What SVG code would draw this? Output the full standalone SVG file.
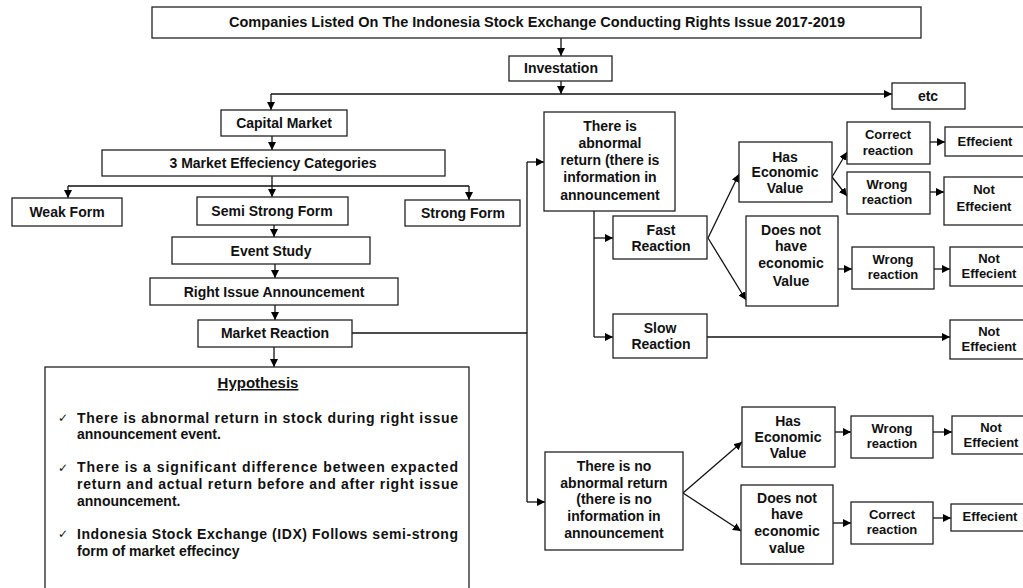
<svg xmlns="http://www.w3.org/2000/svg" width="1023" height="588" viewBox="0 0 1023 588">
<defs>
<marker id="ah" markerWidth="8" markerHeight="8" refX="8" refY="4" orient="auto" markerUnits="userSpaceOnUse"><path d="M0,0 L8,4 L0,8 z" fill="#000"/></marker>
<style>
rect{fill:#fff;stroke:#222;stroke-width:1.3}
text{font-family:"Liberation Sans",Arial,sans-serif;font-weight:bold;font-size:14px;fill:#111;text-anchor:middle}
.s{font-size:13px}
.b{text-anchor:start}
.ck{font-family:"DejaVu Sans",sans-serif;font-size:12px;font-weight:normal;text-anchor:start}
#connectors path{fill:none;stroke:#111;stroke-width:1.3}
.a{marker-end:url(#ah)}
</style>
</defs>
<rect x="0" y="0" width="1023" height="588" style="fill:#fff;stroke:none"/>
<g id="connectors">
<path class="a" d="M561,38 V56"/>
<path class="a" d="M561,81 V94"/>
<path class="a" d="M271,94 H892"/>
<path class="a" d="M271,94 V110"/>
<path class="a" d="M272,136 V150"/>
<path d="M272,176 V186 M68,186 H469"/>
<path class="a" d="M68,186 V198"/>
<path class="a" d="M272,186 V197"/>
<path class="a" d="M469,186 V200"/>
<path class="a" d="M274,225 V237"/>
<path class="a" d="M275,264 V278"/>
<path class="a" d="M275,305 V320"/>
<path class="a" d="M274,347 V367"/>
<path d="M352,333 H527 M527,162 V502"/>
<path class="a" d="M527,162 H544"/>
<path class="a" d="M527,502 H545"/>
<path d="M594,211 V337"/>
<path class="a" d="M594,238 H613"/>
<path class="a" d="M594,337 H613"/>
<path class="a" d="M708,238 L739,174"/>
<path class="a" d="M708,238 L746,300"/>
<path class="a" d="M832,177 L847,152"/>
<path class="a" d="M832,177 L847,196"/>
<path class="a" d="M930,142 H945"/>
<path class="a" d="M930,192 H944"/>
<path class="a" d="M838,269 H852"/>
<path class="a" d="M934,269 H950"/>
<path class="a" d="M707,337 H950"/>
<path class="a" d="M683,493 L742,442"/>
<path class="a" d="M683,493 L741,531"/>
<path class="a" d="M835,432 H851"/>
<path class="a" d="M933,432 H952"/>
<path class="a" d="M833,523 H851"/>
<path class="a" d="M933,518 H951"/>
</g>
<g id="n-top"><rect x="152" y="7" width="769" height="31"/><text x="537" y="27" textLength="616" lengthAdjust="spacingAndGlyphs">Companies Listed On The Indonesia  Stock Exchange Conducting Rights Issue 2017-2019</text></g>
<g id="n-investation"><rect x="509" y="56" width="103" height="25"/><text x="561" y="73">Investation</text></g>
<g id="n-etc"><rect x="892" y="83" width="73" height="26"/><text x="928" y="101">etc</text></g>
<g id="n-capital"><rect x="221" y="110" width="126" height="26"/><text x="284" y="128">Capital Market</text></g>
<g id="n-categories"><rect x="102" y="150" width="343" height="26"/><text x="273" y="168">3 Market Effeciency Categories</text></g>
<g id="n-weak"><rect x="12" y="198" width="110" height="28"/><text x="67" y="217">Weak Form</text></g>
<g id="n-semi"><rect x="197" y="197" width="151" height="28"/><text x="272" y="216">Semi Strong Form</text></g>
<g id="n-strong"><rect x="405" y="200" width="115" height="26"/><text x="463" y="218">Strong Form</text></g>
<g id="n-event"><rect x="172" y="237" width="198" height="27"/><text x="271" y="256">Event Study</text></g>
<g id="n-rightissue"><rect x="150" y="278" width="248" height="27"/><text x="274" y="297">Right Issue Announcement</text></g>
<g id="n-market"><rect x="198" y="320" width="154" height="27"/><text x="275" y="338">Market Reaction</text></g>
<g id="n-hypothesis"><rect x="45" y="367" width="424" height="230"/>
<text x="258" y="388" style="font-size:15px;text-decoration:underline">Hypothesis</text>
<text x="58" y="422" class="ck">✓</text>
<text x="77" y="423" class="b" textLength="381" lengthAdjust="spacing">There is abnormal return in stock during right issue</text>
<text x="77" y="439" class="b">announcement event.</text>
<text x="58" y="472" class="ck">✓</text>
<text x="77" y="472" class="b" textLength="381" lengthAdjust="spacing">There is a significant difference between expacted</text>
<text x="77" y="489" class="b" textLength="381" lengthAdjust="spacing">return and actual return before and after right issue</text>
<text x="77" y="506" class="b">announcement.</text>
<text x="58" y="538" class="ck">✓</text>
<text x="77" y="539" class="b" textLength="381" lengthAdjust="spacing">Indonesia Stock Exchange (IDX) Follows semi-strong</text>
<text x="77" y="556" class="b">form of market effecincy</text>
</g>
<g id="n-abnormal"><rect x="544" y="112" width="131" height="99"/>
<text x="610" y="131">There is</text><text x="610" y="148">abnormal</text><text x="610" y="165">return (there is</text><text x="610" y="182">information in</text><text x="610" y="200">announcement</text></g>
<g id="n-fast"><rect x="613" y="216" width="94" height="43"/><text x="661" y="235">Fast</text><text x="661" y="251">Reaction</text></g>
<g id="n-slow"><rect x="613" y="314" width="94" height="44"/><text x="660" y="333">Slow</text><text x="661" y="349">Reaction</text></g>
<g id="n-has1"><rect x="739" y="142" width="93" height="60"/><text x="785" y="162">Has</text><text x="785" y="177">Economic</text><text x="785" y="193">Value</text></g>
<g id="n-correct1"><rect x="847" y="122" width="83" height="42"/><text x="888" y="139" class="s">Correct</text><text x="888" y="155" class="s">reaction</text></g>
<g id="n-eff1"><rect x="945" y="127" width="85" height="29"/><text x="985" y="146" class="s">Effecient</text></g>
<g id="n-wrong1"><rect x="847" y="172" width="83" height="42"/><text x="887" y="189" class="s">Wrong</text><text x="887" y="204" class="s">reaction</text></g>
<g id="n-noteff1"><rect x="944" y="177" width="85" height="48"/><text x="984" y="194" class="s">Not</text><text x="984" y="211" class="s">Effecient</text></g>
<g id="n-dnh1"><rect x="746" y="216" width="92" height="90"/><text x="791" y="235">Does not</text><text x="791" y="251">have</text><text x="791" y="268">economic</text><text x="791" y="286">Value</text></g>
<g id="n-wrong2"><rect x="852" y="247" width="82" height="42"/><text x="893" y="264" class="s">Wrong</text><text x="893" y="279" class="s">reaction</text></g>
<g id="n-noteff2"><rect x="950" y="247" width="80" height="39"/><text x="989" y="263" class="s">Not</text><text x="989" y="278" class="s">Effecient</text></g>
<g id="n-noteff3"><rect x="950" y="320" width="80" height="39"/><text x="989" y="336" class="s">Not</text><text x="989" y="351" class="s">Effecient</text></g>
<g id="n-noabnormal"><rect x="545" y="452" width="138" height="98"/>
<text x="614" y="471">There is no</text><text x="614" y="488">abnormal return</text><text x="614" y="504">(there is no</text><text x="614" y="521">information in</text><text x="614" y="538">announcement</text></g>
<g id="n-has2"><rect x="742" y="407" width="93" height="60"/><text x="788" y="426">Has</text><text x="788" y="442">Economic</text><text x="788" y="458">Value</text></g>
<g id="n-wrong3"><rect x="851" y="416" width="82" height="42"/><text x="892" y="433" class="s">Wrong</text><text x="892" y="448" class="s">reaction</text></g>
<g id="n-noteff4"><rect x="952" y="416" width="78" height="38"/><text x="991" y="432" class="s">Not</text><text x="991" y="447" class="s">Effecient</text></g>
<g id="n-dnh2"><rect x="741" y="485" width="92" height="79"/><text x="787" y="503">Does not</text><text x="787" y="519">have</text><text x="787" y="536">economic</text><text x="787" y="553">value</text></g>
<g id="n-correct2"><rect x="851" y="502" width="82" height="42"/><text x="892" y="519" class="s">Correct</text><text x="892" y="534" class="s">reaction</text></g>
<g id="n-eff2"><rect x="951" y="504" width="79" height="27"/><text x="990" y="521" class="s">Effecient</text></g>
</svg>
